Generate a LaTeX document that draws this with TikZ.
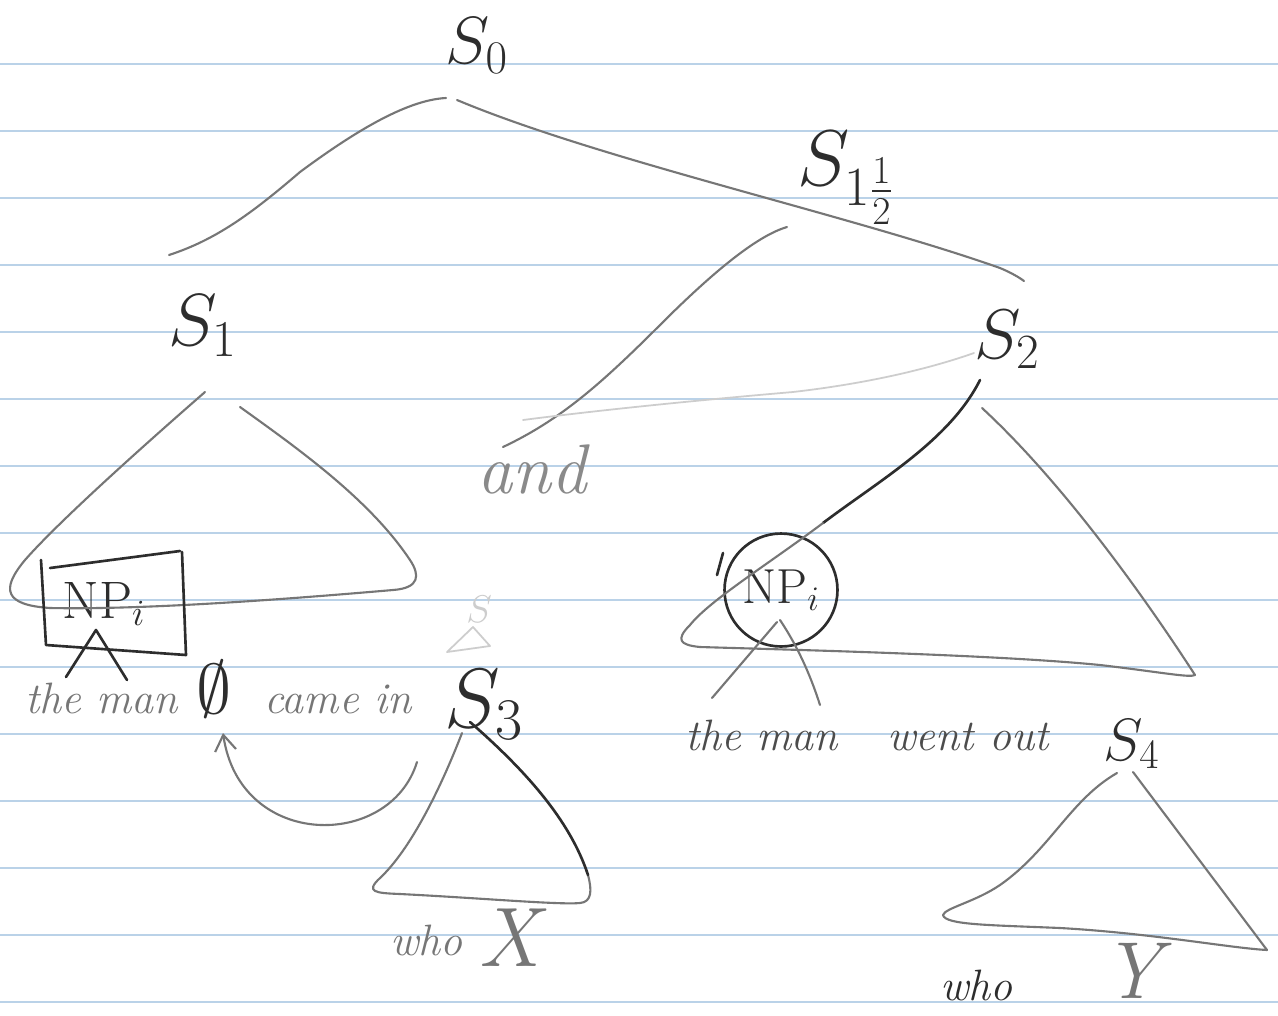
\RequirePackage{fix-cm}
\documentclass[tikz,border=0pt]{standalone}
\usepackage{amsmath}
\usepackage{tikz}
\usetikzlibrary{calc,arrows.meta}
\definecolor{ruleBlue}{RGB}{186,210,232}
\definecolor{pencilGray}{RGB}{118,118,118}
\definecolor{inkGray}{RGB}{45,45,45}
\definecolor{faintGray}{RGB}{205,205,205}

\begin{document}
\begin{tikzpicture}[x=0.02cm, y=-0.02cm, line cap=round, line join=round,
    pencil/.style={pencilGray, line width=1.2pt},
    ink/.style={inkGray, line width=1.5pt},
    faint/.style={faintGray, line width=1pt},
    slab/.style={anchor=base west, inner sep=0pt, text=inkGray},
    words/.style={anchor=base west, inner sep=0pt, text=pencilGray, font=\fontsize{25}{30}\selectfont\itshape}]

    \useasboundingbox (0,0) rectangle (1278,1015);
    \fill[white] (0,0) rectangle (1278,1015);
    % ruled paper
    \foreach \y in {64,131,...,1002}
        \draw[ruleBlue, line width=1pt] (0,\y) -- (1278,\y);

    % S labels
    \node[slab, font=\fontsize{38}{40}\selectfont] (s0) at (445,63) {$S_0$};
    \node[slab, font=\fontsize{45}{48}\selectfont] (s1h) at (797,185) {$S_{1\frac{1}{2}}$};
    \node[slab, font=\fontsize{42}{44}\selectfont] (s1) at (168,345) {$S_1$};
    \node[slab, font=\fontsize{40}{44}\selectfont] (s2) at (974,358) {$S_2$};
    \node[slab, font=\fontsize{48}{50}\selectfont] (s3) at (444,727) {$S_3$};
    \node[slab, font=\fontsize{34}{36}\selectfont] (s4) at (1103,760) {$S_4$};
    \node[slab, text=faintGray, font=\fontsize{22}{24}\selectfont] (ghost) at (466,622) {$S$};

    % words
    \node[words] (t1a) at (25,713) {the man};
    \node[slab, font=\fontsize{40}{44}\selectfont] (gap) at (196,713) {$\emptyset$};
    \node[words] (t1b) at (264,713) {came in};
    \node[words, font=\fontsize{40}{44}\selectfont\itshape, text=pencilGray!85] (and) at (477,493) {and};
    \node[words, text=inkGray!85] (t2a) at (685,750) {the man};
    \node[words, text=inkGray!85] (t2b) at (887,750) {went out};
    \node[words] (who1) at (390,955) {who};
    \node[words, font=\fontsize{48}{50}\selectfont\itshape] (x1) at (478,966) {X};
    \node[words, text=inkGray] (who2) at (940,1000) {who};
    \node[words, font=\fontsize{46}{50}\selectfont\itshape] (y1) at (1102,998) {Y};

    % NP nodes
    \node[slab, anchor=center, font=\fontsize{30}{32}\selectfont] (np1) at (104,604) {NP$_i$};
    \node[slab, anchor=center, draw=inkGray, line width=1.5pt, circle, minimum size=2.26cm,
          font=\fontsize{28}{30}\selectfont] (np2) at (781,590) {NP$_i$};

    % top of the tree
    \coordinate (s0foot) at (446,98);
    \draw[pencil] (169,255) .. controls (215,240) and (250,215) .. (300,172)
        .. controls (350,135) and (405,100) .. (s0foot);
    \draw[pencil] (457,100) .. controls (600,160) and (850,215) .. (1000,268)
        .. controls (1012,273) and (1020,278) .. (1024,281);
    \draw[pencil] (787,227) .. controls (760,235) and (720,265) .. (660,325)
        .. controls (600,385) and (560,420) .. (503,447);
    \draw[faint] (523,420) .. controls (600,410) and (700,400) .. (793,392)
        .. controls (880,382) and (940,365) .. (974,353);

    % S1 triangle and boxed NP
    \draw[pencil] (205,392) .. controls (150,440) and (60,520) .. (25,560)
        .. controls (0,590) and (5,605) .. (50,608)
        .. controls (150,610) and (300,598) .. (393,590)
        .. controls (420,588) and (420,575) .. (410,560)
        .. controls (370,500) and (300,450) .. (240,407);
    \draw[ink] (41,560) -- (46,645) -- (186,655) -- (182,552);
    \draw[ink] (50,568) -- (180,551);
    \draw[ink] (66,677) -- (96,630) -- (127,680);

    % movement arrow
    \coordinate (mvfrom) at (417,762);
    \coordinate (mvto) at (223,733);
    \draw[pencil, -{Straight Barb[length=9pt,width=12pt]}] (mvfrom)
        .. controls (390,850) and (240,850) .. (mvto);

    % S3 triangle
    \draw[faint] (473,627) -- (447,652) -- (490,646) -- cycle;
    \draw[pencil] (462,733) .. controls (440,790) and (410,850) .. (380,878)
        .. controls (365,892) and (375,893) .. (400,894)
        .. controls (480,898) and (560,905) .. (580,903)
        .. controls (592,902) and (592,890) .. (588,875);
    \draw[ink] (588,875) .. controls (570,820) and (525,770) .. (470,722);

    % S2 triangle and circled NP
    \draw[ink] (980,380) .. controls (950,440) and (880,480) .. (823,523);
    \draw[pencil] (823,523) .. controls (770,563) and (710,600) .. (690,625)
        .. controls (675,640) and (680,645) .. (700,647)
        .. controls (800,650) and (1000,655) .. (1100,665)
        .. controls (1160,672) and (1190,678) .. (1195,675)
        .. controls (1140,590) and (1060,480) .. (982,408);
    \draw[ink] (717,575) -- (723,553);
    \draw[pencil] (777,622) -- (712,698);
    \draw[pencil] (780,620) .. controls (800,650) and (812,680) .. (820,705);

    % S4 triangle
    \draw[pencil] (1117,773) .. controls (1070,800) and (1050,850) .. (1000,885)
        .. controls (975,902) and (945,908) .. (943,915)
        .. controls (945,925) and (990,925) .. (1060,928)
        .. controls (1150,933) and (1230,948) .. (1267,950) -- (1133,772);
\end{tikzpicture}
\end{document}
